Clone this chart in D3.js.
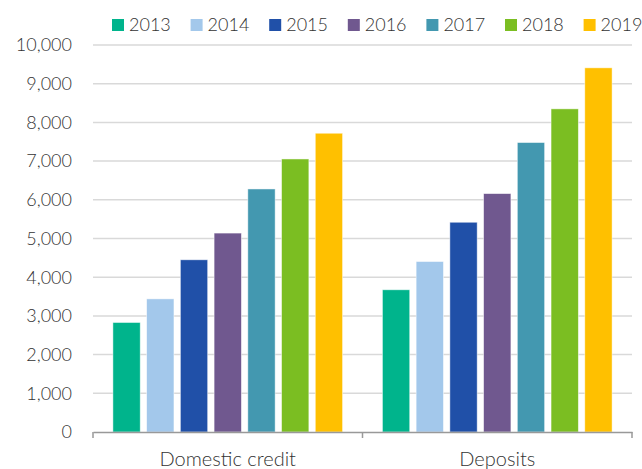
<!DOCTYPE html>
<html>
<head>
<meta charset="utf-8">
<script src="https://cdn.jsdelivr.net/npm/d3@7"></script>
<style>
  body { margin: 0; background: #fff; }
  text { font-family: Lato, 'Open Sans', sans-serif; font-weight: 300; fill: #333; }
</style>
</head>
<body>
<svg id="chart" width="642" height="469"></svg>
<script>
// data
const categories = ['Domestic credit', 'Deposits']
const years = ['2013', '2014', '2015', '2016', '2017', '2018', '2019']
const domesticCredit = [2830, 3440, 4450, 5140, 6280, 7055, 7720]
const deposits = [3675, 4405, 5420, 6160, 7480, 8350, 9410]
const yTicks = [0, 1000, 2000, 3000, 4000, 5000, 6000, 7000, 8000, 9000, 10000]
const colors = ['#00b48c', '#a3c8eb', '#2050a8', '#70588f', '#4398b0', '#7bbe22', '#ffc000']

const series = [domesticCredit, deposits]
const margin = {top: 45, right: 10, bottom: 37, left: 93}
const svg = d3.select('#chart')
const width = +svg.attr('width') - margin.left - margin.right
const height = +svg.attr('height') - margin.top - margin.bottom

const g = svg.append('g').attr('transform', 'translate(' + margin.left + ',' + margin.top + ')')

const x0 = d3.scaleBand().domain(categories).range([0, width]).padding(0)
const x1 = d3.scaleBand().domain(years).range([0, x0.bandwidth()]).paddingInner(0.19).paddingOuter(0.59)
const y = d3.scaleLinear().domain([0, 10000]).range([height, 0])
const fmt = d3.format(',')

// gridlines
g.selectAll('.grid')
  .data(yTicks.slice(1))
  .enter()
  .append('line')
  .attr('x1', 0)
  .attr('x2', width)
  .attr('y1', d => y(d))
  .attr('y2', d => y(d))
  .style('stroke', '#d9d9d9')
  .style('stroke-width', 1.5)

// y labels
g.selectAll('.ylab')
  .data(yTicks)
  .enter()
  .append('text')
  .attr('x', -21)
  .attr('y', d => y(d))
  .attr('dy', '0.35em')
  .attr('text-anchor', 'end')
  .style('font-size', '18px')
  .text(d => fmt(d))

// bars
let groups = g.selectAll('.cat')
  .data(categories)
  .enter()
  .append('g')
  .attr('transform', d => 'translate(' + x0(d) + ',0)')

groups.selectAll('rect')
  .data((d, i) => years.map((yr, j) => ({year: yr, value: series[i][j], color: colors[j]})))
  .enter()
  .append('rect')
  .attr('x', d => x1(d.year))
  .attr('width', x1.bandwidth())
  .attr('y', d => y(d.value))
  .attr('height', d => y(0) - y(d.value))
  .style('fill', d => d.color)
  .style('stroke', '#fff')
  .style('stroke-opacity', 0.6)
  .style('stroke-width', 0.8)

// x axis
let xAxis = g.append('g').attr('transform', 'translate(0,' + height + ')')
  .call(d3.axisBottom(x0).tickSize(0).tickPadding(20))
xAxis.attr('font-family', null).attr('font-size', null)
xAxis.select('.domain').style('stroke', '#999').style('stroke-width', 1.5)
xAxis.selectAll('text').style('font-size', '20px').style('fill', '#333')
xAxis.selectAll('.sep')
  .data([0, x0.bandwidth(), width])
  .enter()
  .append('line')
  .attr('x1', d => d)
  .attr('x2', d => d)
  .attr('y1', 0)
  .attr('y2', 6)
  .style('stroke', '#999')
  .style('stroke-width', 1.5)

// legend
let legend = svg.append('g').attr('transform', 'translate(112,25)')
let item = legend.selectAll('g')
  .data(years)
  .enter()
  .append('g')
  .attr('transform', (d, i) => 'translate(' + i * 78.6 + ',0)')
item.append('rect')
  .attr('x', 0)
  .attr('y', -6)
  .attr('width', 12)
  .attr('height', 12)
  .style('fill', (d, i) => colors[i])
item.append('text')
  .attr('x', 17)
  .attr('y', 0)
  .attr('dy', '0.35em')
  .style('font-size', '18px')
  .text(d => d)
</script>
</body>
</html>
